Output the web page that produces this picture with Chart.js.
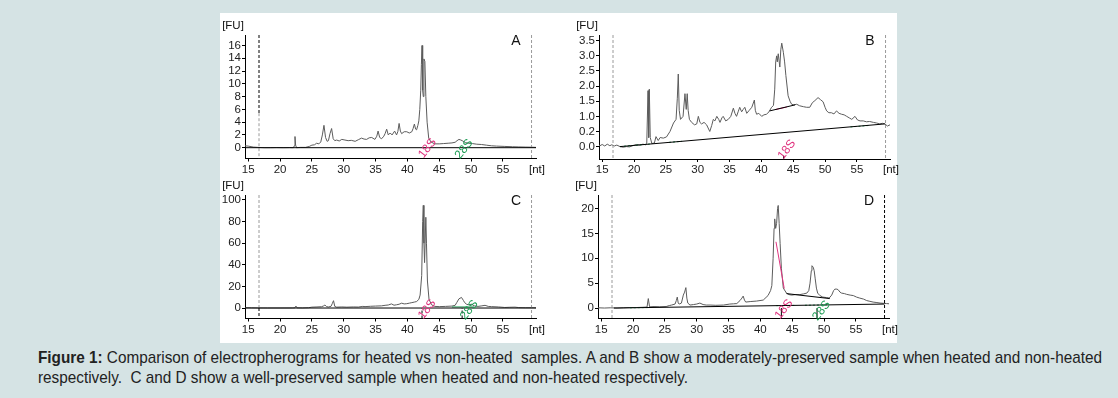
<!DOCTYPE html>
<html><head><meta charset="utf-8">
<script src="https://cdn.jsdelivr.net/npm/chart.js@4.4.1/dist/chart.umd.min.js"></script>
<style>
html,body{margin:0;padding:0;background:#d5e3e4;width:1118px;height:398px;overflow:hidden;}
#panel{position:absolute;left:220px;top:13px;width:677px;height:330px;background:#fff;}
canvas{position:absolute;}
#cap{position:absolute;left:38px;top:348px;font-family:'Liberation Sans',Arial,sans-serif;font-size:17px;line-height:20px;color:#222;white-space:nowrap;transform:scaleX(0.9);transform-origin:0 0;}
</style></head><body>
<div id="panel"></div>
<canvas id="cA" width="355" height="175" style="left:195px;top:13px"></canvas>
<canvas id="cB" width="360" height="175" style="left:550px;top:13px"></canvas>
<canvas id="cC" width="355" height="165" style="left:195px;top:178px"></canvas>
<canvas id="cD" width="360" height="165" style="left:550px;top:178px"></canvas>
<div id="cap"><b>Figure 1:</b> Comparison of electropherograms for heated vs non-heated&nbsp; samples. A and B show a moderately-preserved sample when heated and non-heated<br>respectively.&nbsp; C and D show a well-preserved sample when heated and non-heated respectively.</div>
<script>
// ---------- data ----------
const xTicks = [15,20,25,30,35,40,45,50,55];
const xTickLabels = ['15','20','25','30','35','40','45','50','55'];
const yTicksA = [0,2,4,6,8,10,12,14,16];
const yLabelsA = ['0','2','4','6','8','10','12','14','16'];
const yTicksB = [0,0.5,1,1.5,2,2.5,3,3.5];
const yLabelsB = ['0.0','0.2','1.0','1.5','2.0','2.5','3.0','3.5'];
const yTicksC = [0,20,40,60,80,100];
const yLabelsC = ['0','20','40','60','80','100'];
const yTicksD = [0,5,10,15,20];
const yLabelsD = ['0','5','10','15','20'];

// [nt, FU]
const traceA = [[14.5,0.3],[15.0,0.25],[15.8,0.1],[16.5,0.05],[17.5,0.0],[18.5,0.0],[19.5,0.02],[20.5,0.0],[21.5,0.02],[22.1,0.0],[22.25,0.3],[22.35,1.75],[22.45,0.4],[22.6,0.0],[23.2,0.05],[24.0,0.05],[24.6,0.2],[25.0,0.4],[25.4,0.45],[25.75,0.7],[26.1,0.6],[26.4,0.9],[26.65,2.0],[26.9,3.5],[27.15,1.6],[27.4,1.0],[27.6,1.1],[27.85,2.2],[28.1,3.0],[28.35,1.4],[28.6,1.1],[28.9,1.2],[29.3,1.05],[29.7,1.3],[30.2,1.2],[30.7,1.1],[31.2,1.15],[31.8,1.0],[32.3,1.25],[32.8,1.5],[33.2,1.35],[33.6,1.3],[34.0,1.55],[34.4,1.6],[34.9,1.3],[35.2,1.8],[35.4,2.6],[35.65,1.6],[35.95,1.4],[36.3,1.8],[36.5,2.2],[36.75,2.9],[37.0,2.0],[37.3,2.3],[37.6,2.0],[38.0,2.6],[38.3,2.0],[38.5,2.5],[38.7,3.8],[38.9,2.6],[39.1,2.2],[39.5,2.5],[39.9,2.5],[40.3,2.3],[40.7,2.5],[40.9,3.0],[41.1,3.7],[41.3,2.9],[41.45,2.8],[41.65,3.5],[41.8,4.2],[41.95,6.0],[42.1,9.0],[42.2,13.0],[42.3,16.0],[42.4,9.0],[42.5,8.0],[42.6,13.9],[42.75,13.5],[42.9,8.0],[43.1,4.0],[43.35,1.5],[43.7,0.9],[44.3,0.6],[45.0,0.6],[45.7,0.65],[46.4,0.7],[47.0,0.75],[47.5,0.85],[47.8,1.1],[48.1,1.3],[48.4,1.2],[48.7,1.05],[49.1,0.8],[49.55,0.7],[50.2,0.65],[50.9,0.55],[51.65,0.5],[52.4,0.4],[53.2,0.3],[54.0,0.25],[55.3,0.2],[56.5,0.15],[57.5,0.12],[58.5,0.1],[59.5,0.08],[60.2,0.05]];

const traceB = [[14.5,0.05],[14.66,0.03],[15.0,0.07],[15.4,0.02],[15.8,0.08],[16.2,0.03],[16.5,0.06],[16.9,0.02],[17.3,0.05],[17.8,0.0],[18.3,-0.02],[18.8,0.0],[19.3,-0.01],[19.8,0.03],[20.4,0.07],[20.9,0.05],[21.4,0.08],[21.8,0.06],[22.0,0.1],[22.2,1.85],[22.3,0.3],[22.4,1.9],[22.55,0.3],[22.8,0.1],[23.2,0.12],[23.45,0.33],[23.8,0.2],[24.1,0.3],[24.6,0.28],[25.1,0.32],[25.65,0.5],[26.2,0.78],[26.6,0.9],[26.8,1.6],[26.95,2.4],[27.1,1.2],[27.3,0.9],[27.7,1.0],[28.0,1.75],[28.2,1.23],[28.35,1.75],[28.5,1.2],[28.7,0.9],[29.05,0.8],[29.5,0.72],[29.85,0.75],[30.1,1.0],[30.35,0.8],[30.6,0.75],[31.0,0.8],[31.4,0.72],[31.9,0.5],[32.2,0.7],[32.45,0.9],[32.7,0.85],[33.0,1.0],[33.3,0.9],[33.5,0.8],[33.8,0.95],[34.0,1.0],[34.4,0.85],[34.8,0.9],[35.2,1.0],[35.6,1.27],[35.85,1.1],[36.1,1.0],[36.35,1.15],[36.6,1.3],[36.9,1.15],[37.15,1.23],[37.4,1.3],[37.7,1.1],[38.1,1.2],[38.5,1.3],[38.9,1.54],[39.05,1.2],[39.25,1.07],[39.6,1.1],[40.05,1.0],[40.4,1.05],[40.8,1.07],[41.2,1.15],[41.6,1.3],[41.9,1.36],[42.1,1.9],[42.25,2.8],[42.4,3.0],[42.5,2.8],[42.65,3.07],[42.9,2.63],[43.05,3.2],[43.2,3.42],[43.45,3.12],[43.65,2.8],[43.85,2.35],[44.2,1.68],[44.5,1.5],[44.75,1.4],[45.1,1.38],[45.55,1.4],[46.0,1.35],[46.6,1.32],[47.1,1.3],[47.6,1.3],[48.0,1.45],[48.4,1.52],[48.9,1.62],[49.3,1.55],[49.7,1.48],[50.0,1.3],[50.25,1.18],[50.6,1.12],[51.0,1.12],[51.4,1.08],[51.8,1.18],[52.2,1.1],[52.6,1.07],[53.0,1.05],[53.4,1.0],[53.8,0.95],[54.2,0.9],[54.7,1.0],[55.1,0.88],[55.5,0.85],[56.0,0.85],[56.5,0.82],[57.0,0.83],[57.6,0.8],[58.1,0.78],[58.6,0.75],[59.0,0.77],[59.4,0.75],[59.8,0.68],[60.2,0.72]];

const traceC = [[14.5,0.3],[15.5,0.2],[16.5,0.1],[18.0,0.05],[20.0,0.05],[22.0,0.1],[22.35,0.2],[22.5,1.8],[22.65,0.2],[23.5,0.1],[24.5,0.3],[25.0,0.8],[25.8,1.0],[26.5,1.2],[26.8,1.8],[27.05,2.8],[27.3,1.3],[27.6,1.0],[28.0,1.5],[28.2,4.0],[28.4,6.8],[28.6,1.5],[28.9,0.8],[29.7,1.0],[30.5,0.8],[31.5,1.0],[32.3,0.9],[33.0,1.5],[33.35,1.3],[34.2,1.6],[35.0,1.8],[35.95,2.0],[36.5,2.5],[37.0,2.8],[37.5,3.8],[37.9,2.6],[38.3,3.0],[38.7,3.5],[39.1,4.5],[39.5,3.8],[39.9,4.0],[40.3,4.5],[40.7,5.0],[41.1,5.5],[41.45,6.0],[41.8,8.0],[42.0,12.0],[42.25,30.0],[42.4,80.0],[42.5,95.0],[42.6,60.0],[42.7,42.0],[42.9,84.0],[43.0,60.0],[43.15,25.0],[43.4,8.0],[43.8,3.0],[44.3,1.5],[45.0,1.3],[46.0,1.5],[47.0,1.8],[47.5,2.5],[47.75,5.0],[48.1,8.5],[48.5,9.8],[48.8,7.0],[49.0,5.0],[49.3,3.5],[49.55,3.0],[49.8,3.2],[50.1,3.5],[50.5,2.0],[51.1,1.5],[51.7,2.0],[52.2,2.5],[52.7,1.5],[53.2,1.3],[54.3,1.0],[55.3,0.5],[56.1,0.7],[56.9,0.8],[57.5,0.4],[58.5,0.3],[59.5,0.3],[60.2,0.2]];

const traceD = [[14.5,0.05],[15.5,0.0],[16.5,0.05],[17.5,0.0],[18.5,0.05],[19.5,0.1],[20.5,0.1],[21.5,0.15],[22.2,0.2],[22.4,1.9],[22.6,0.25],[23.3,0.3],[24.2,0.25],[25.2,0.3],[25.7,0.5],[26.05,0.6],[26.6,0.8],[26.8,1.5],[26.95,2.2],[27.1,1.0],[27.25,0.8],[27.6,1.0],[27.9,2.6],[28.1,3.2],[28.3,4.1],[28.45,2.0],[28.6,1.0],[28.95,0.6],[29.5,0.7],[30.0,0.8],[30.5,1.0],[31.0,0.7],[31.5,0.6],[32.1,0.6],[33.0,0.55],[34.2,0.6],[35.2,0.8],[35.8,0.85],[36.3,0.9],[36.8,1.5],[37.1,2.0],[37.3,2.4],[37.5,1.6],[37.7,1.2],[38.4,1.3],[39.4,1.4],[40.45,1.6],[41.2,2.5],[41.6,3.5],[41.8,4.5],[42.0,10.0],[42.15,16.0],[42.25,17.9],[42.4,16.0],[42.55,17.0],[42.7,20.0],[42.8,20.6],[42.95,17.0],[43.1,13.0],[43.3,8.0],[43.6,4.0],[44.1,3.0],[44.5,2.7],[44.9,2.6],[45.5,2.7],[46.2,2.7],[46.8,2.85],[47.3,3.0],[47.6,3.5],[47.8,5.0],[48.0,7.5],[48.1,8.5],[48.3,8.2],[48.45,7.5],[48.6,6.0],[48.8,4.0],[49.0,3.0],[49.35,2.5],[49.8,2.2],[50.4,2.1],[50.8,2.0],[51.2,2.6],[51.5,3.5],[51.7,3.8],[52.0,3.8],[52.2,3.7],[52.5,3.2],[52.75,3.0],[53.2,2.9],[53.55,2.75],[54.1,2.6],[54.6,2.5],[55.1,2.2],[55.6,2.0],[56.2,1.8],[56.7,1.5],[57.2,1.35],[57.7,1.2],[58.3,1.1],[58.8,1.0],[59.3,0.95],[59.8,0.9],[60.2,0.85]];

// baselines [nt, FU]
const baseA = [[14.5,0],[60.2,0]];
const baseB = [[17.8,0.0],[59.4,0.75]];
const peakBaseB18 = [[41.3,1.18],[45.3,1.38]];
const peakBaseB18Pink = [[42.3,1.23],[44.0,1.31]];
const baseC = [[14.5,0],[60.2,0]];
const greenC = [[47.0,1.0],[50.5,1.0]];
const baseD = [[17.0,0],[59.5,0.8]];
const peakBaseD18 = [[42.45,13.3],[43.75,3.9]];
const peakBaseD28 = [[44.1,2.9],[50.9,1.9]];

// ---------- style ----------
const FONT = "'Liberation Sans',Arial,sans-serif";
const PINK = '#e0337f', GREEN = '#1f9d55', TRACE = '#5c5c5c', GRAYD = '#9a9a9a';
const XMIN = 14.5, XMAX = 60.2, LEFTM = 16.7, RIGHTM = 59.5;

function pts(a){ return a.map(p => ({x:p[0], y:p[1]})); }
function seg(a, color, dash, w){ return {data: pts(a), borderColor: color, borderDash: dash || [], borderWidth: w || 1, order: 1}; }

function textPlugin(cfg){
  return { id:'txt'+cfg.letter, afterDatasetsDraw(chart){
    const ctx = chart.ctx, a = chart.chartArea, x = chart.scales.x, y = chart.scales.y;
    ctx.save();
    ctx.fillStyle = '#111'; ctx.textAlign = 'center'; ctx.textBaseline = 'middle';
    ctx.font = '11.5px ' + FONT;
    ctx.fillText('[FU]', a.left - 12, a.top - 9);
    ctx.fillText('[nt]', a.right + 1, a.bottom + 11);
    ctx.font = '14px ' + FONT;
    ctx.fillText(cfg.letter, a.right - 20, a.top + 6);
    cfg.marks.forEach(m => {
      ctx.save();
      ctx.translate(x.getPixelForValue(m.x), y.getPixelForValue(m.y));
      ctx.rotate(-52 * Math.PI / 180);
      ctx.fillStyle = m.c; ctx.font = '12px ' + FONT;
      ctx.fillText(m.t, 0, 0);
      ctx.restore();
    });
    ctx.restore();
  }};
}

function axisCommon(){
  return {
    grid: {display:true, drawOnChartArea:false, drawTicks:true, tickLength:3, color:'#000', lineWidth:1},
    border: {display:true, color:'#000', width:1},
  };
}

function build(id, cfg){
  const ds = [{data: pts(cfg.trace), borderColor: TRACE, borderWidth: 1, order: 3}];
  cfg.lines.forEach(l => ds.push(l));
  new Chart(document.getElementById(id), {
    type: 'line',
    data: {datasets: ds},
    options: {
      responsive: false, animation: false, events: [],
      layout: {padding: cfg.pad},
      elements: {point: {radius: 0}, line: {tension: 0, fill: false}},
      plugins: {legend: {display:false}, tooltip: {enabled:false}},
      scales: {
        x: Object.assign(axisCommon(), {
          type: 'linear', min: XMIN, max: XMAX,
          afterFit: s => { s.height = cfg.xh; },
          afterBuildTicks: s => { s.ticks = xTicks.map(v => ({value: v})); },
          ticks: {autoSkip:false, maxRotation:0, padding:1, color:'#222', font:{family:FONT, size:11.5}, callback:(v,i) => xTickLabels[i]}
        }),
        y: Object.assign(axisCommon(), {
          type: 'linear', min: cfg.ymin, max: cfg.ymax,
          afterFit: s => { s.width = cfg.yw; },
          afterBuildTicks: s => { s.ticks = cfg.yt.map(v => ({value: v})); },
          ticks: {autoSkip:false, padding:1, color:'#222', font:{family:FONT, size:11.5}, callback:(v,i) => cfg.yl[i]}
        })
      }
    },
    plugins: [textPlugin(cfg)]
  });
}

// Panel A
(function(){
  const ymin = -1.69, ymax = 17.64;
  build('cA', {letter:'A', trace: traceA, yt: yTicksA, yl: yLabelsA, ymin, ymax,
    pad: {left:0, right:14, top:22, bottom:0}, yw: 50, xh: 29.5,
    lines: [
      seg(baseA, '#000'),
      seg([[LEFTM,ymax],[LEFTM,5.4]], '#000', [3,2]),
      seg([[LEFTM,5.4],[LEFTM,ymin]], GRAYD, [3,2]),
      seg([[RIGHTM,ymax],[RIGHTM,ymin]], GRAYD, [3,2])
    ],
    marks: [{t:'18S', x:43.15, y:-0.1, c:PINK}, {t:'28S', x:48.9, y:-0.2, c:GREEN}]
  });
})();

// Panel B
(function(){
  const ymin = -0.41, ymax = 3.69;
  build('cB', {letter:'B', trace: traceB, yt: yTicksB, yl: yLabelsB, ymin, ymax,
    pad: {left:0, right:20, top:22, bottom:0}, yw: 49, xh: 29,
    lines: [
      seg(baseB, '#000'),
      seg([[17.8,0.0],[22.5,0.085]], GREEN, [2,2]),
      seg([[25.5,0.14],[27.5,0.175]], GREEN, [2,2]),
      seg([[54.0,0.65],[57.0,0.7]], GREEN, [2,2]),
      seg(peakBaseB18, '#000'),
      seg(peakBaseB18Pink, PINK),
      seg([[43.5,ymin],[43.5,-0.3]], '#000'),
      seg([[LEFTM,ymax],[LEFTM,ymin]], GRAYD, [3,2]),
      seg([[RIGHTM,ymax],[RIGHTM,ymin]], GRAYD, [3,2])
    ],
    marks: [{t:'18S', x:44.0, y:-0.1, c:PINK}]
  });
})();

// Panel C
(function(){
  const ymin = -9.7, ymax = 104.6;
  build('cC', {letter:'C', trace: traceC, yt: yTicksC, yl: yLabelsC, ymin, ymax,
    pad: {left:0, right:14, top:17, bottom:0}, yw: 50, xh: 24.5,
    lines: [
      seg(baseC, '#000'),
      seg(greenC, GREEN),
      seg([[42.3,ymin],[42.3,0]], '#000', [3,2]),
      seg([[48.6,ymin],[48.6,0]], '#000', [3,2]),
      seg([[LEFTM,ymax],[LEFTM,0]], GRAYD, [3,2]),
      seg([[LEFTM,0],[LEFTM,ymin]], '#000', [3,2]),
      seg([[RIGHTM,ymax],[RIGHTM,ymin]], GRAYD, [3,2])
    ],
    marks: [{t:'18S', x:43.1, y:-1.2, c:PINK}, {t:'28S', x:49.7, y:-1.85, c:GREEN}]
  });
})();

// Panel D
(function(){
  const ymin = -2.1, ymax = 22.7;
  build('cD', {letter:'D', trace: traceD, yt: yTicksD, yl: yLabelsD, ymin, ymax,
    pad: {left:0, right:21, top:17, bottom:0}, yw: 48, xh: 24.5,
    lines: [
      seg(baseD, '#000'),
      seg([[19.5,0.05],[22.5,0.1]], GREEN, [2,2]),
      seg([[42.5,0.48],[45.5,0.54]], GREEN, [2,2]),
      seg([[47.0,0.56],[50.5,0.63]], GREEN, [2,2]),
      seg(peakBaseD18, PINK),
      seg(peakBaseD28, '#000'),
      seg([[43.3,ymin],[43.3,0]], '#000'),
      seg([[48.9,ymin],[48.9,0]], '#000'),
      seg([[LEFTM,ymax],[LEFTM,ymin]], GRAYD, [3,2]),
      seg([[RIGHTM,ymax],[RIGHTM,ymin]], '#000', [3,2])
    ],
    marks: [{t:'18S', x:43.7, y:-0.27, c:PINK}, {t:'28S', x:49.6, y:-0.53, c:GREEN}]
  });
})();
</script>
</body></html>
